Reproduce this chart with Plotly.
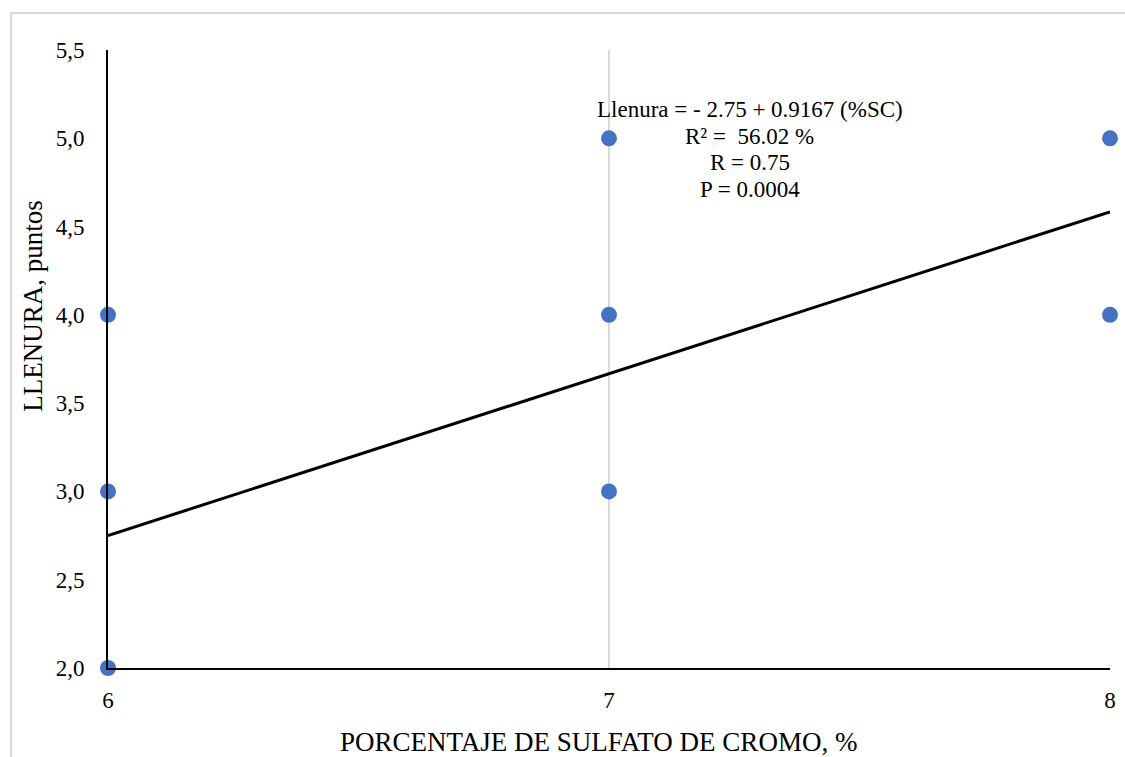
import plotly.graph_objects as go

x_vals = [6, 6, 6, 7, 7, 7, 8, 8]
y_vals = [2, 3, 4, 3, 4, 5, 4, 5]
intercept = -2.75
slope = 0.9167
line_x = [6, 8]
line_y = [intercept + slope * v for v in line_x]
x_ticks = [6, 7, 8]
y_ticks = [2.0, 2.5, 3.0, 3.5, 4.0, 4.5, 5.0, 5.5]
eq_lines = ["Llenura = - 2.75 + 0.9167 (%SC)", "R² =  56.02 %", "R = 0.75", "P = 0.0004"]
x_title = "PORCENTAJE DE SULFATO DE CROMO, %"
y_title = "LLENURA, puntos"

FONT = "Liberation Serif"

fig = go.Figure()
fig.add_trace(go.Scatter(x=line_x, y=line_y, mode="lines",
                         line=dict(color="black", width=3), cliponaxis=False,
                         showlegend=False, hoverinfo="skip"))
fig.add_trace(go.Scatter(x=x_vals, y=y_vals, mode="markers",
                         marker=dict(color="#4472C4", size=16), cliponaxis=False,
                         showlegend=False))

eq_y = [0.9045, 0.8608, 0.8172, 0.7735]
for txt, yy in zip(eq_lines, eq_y):
    fig.add_annotation(x=0.6407, y=yy, xref="paper", yref="paper", showarrow=False,
                       text=txt, font=dict(family=FONT, size=23, color="black"),
                       xanchor="center", yanchor="middle")

fig.add_annotation(x=0.49, y=-0.1205, xref="paper", yref="paper", showarrow=False,
                   text=x_title, font=dict(family=FONT, size=27, color="black"),
                   xanchor="center", yanchor="middle")
fig.add_annotation(x=-0.0749, y=0.586, xref="paper", yref="paper", showarrow=False,
                   text=y_title, textangle=-90,
                   font=dict(family=FONT, size=27, color="black"),
                   xanchor="center", yanchor="middle")

fig.add_shape(type="rect", xref="paper", yref="paper",
              x0=-0.0968, x1=1.03, y0=-0.2, y1=1.0599,
              line=dict(color="#d9d9d9", width=2), layer="below")

fig.update_layout(
    width=1125, height=757,
    margin=dict(l=108, r=15, t=50, b=89),
    paper_bgcolor="white", plot_bgcolor="white",
    font=dict(family=FONT, size=23, color="black"),
    separators=",.",
    xaxis=dict(range=[6, 8], tickvals=x_ticks, showgrid=True, gridcolor="#d9d9d9",
               gridwidth=2, showline=True, linecolor="black", linewidth=2,
               zeroline=False, ticks="outside", ticklen=10, tickcolor="rgba(0,0,0,0)",
               tickfont=dict(family=FONT, size=23), automargin=False),
    yaxis=dict(range=[2, 5.5], tickvals=y_ticks, tickformat=".1f", showgrid=False,
               showline=True, linecolor="black", linewidth=2, zeroline=False,
               ticks="outside", ticklen=17, tickcolor="rgba(0,0,0,0)",
               tickfont=dict(family=FONT, size=23), automargin=False),
)

fig.write_html("out.html", config={"displayModeBar": False},
               post_script="document.body.style.margin='0';document.body.style.overflow='hidden';")
